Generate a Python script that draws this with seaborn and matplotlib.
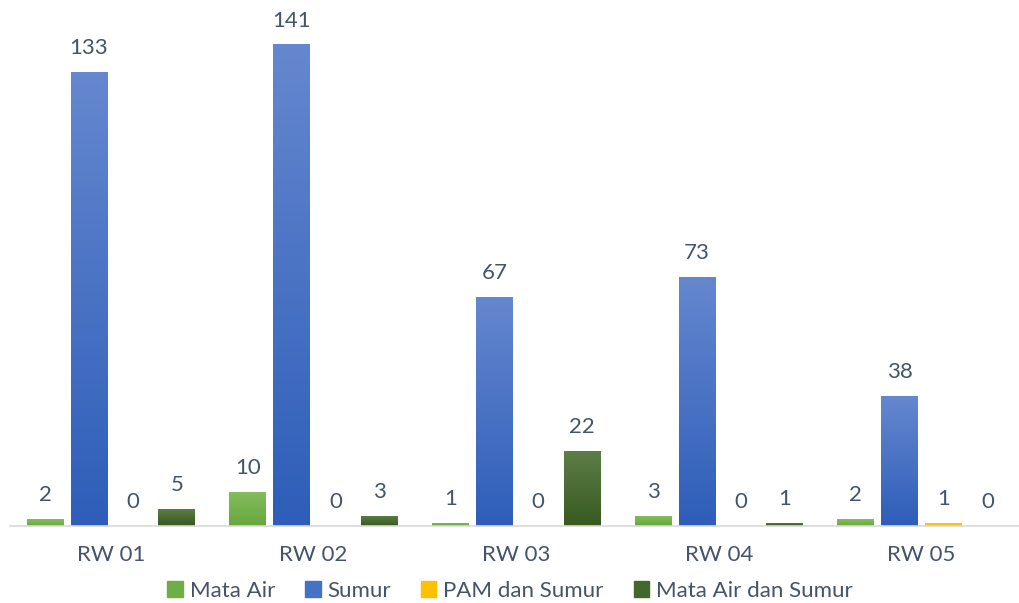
import numpy as np
import pandas as pd
import matplotlib
matplotlib.use("Agg")
import matplotlib.pyplot as plt
from matplotlib.colors import LinearSegmentedColormap
import seaborn as sns

# data
rw_labels = ["RW 01", "RW 02", "RW 03", "RW 04", "RW 05"]
series_names = ["Mata Air", "Sumur", "PAM dan Sumur", "Mata Air dan Sumur"]
mata_air = [2, 10, 1, 3, 2]
sumur = [133, 141, 67, 73, 38]
pam_sumur = [0, 0, 0, 0, 1]
mata_air_sumur = [5, 3, 22, 1, 0]

# base colour plus (top, bottom) gradient stops
base_colors = ["#70AD47", "#4472C4", "#FFC000", "#43682B"]
grad_colors = [("#84BD5E", "#67A83C"), ("#6587CF", "#2E5EB9"),
               ("#FFCA33", "#F5B800"), ("#5E7E48", "#375A20")]

df = pd.DataFrame({
    "rw": rw_labels * 4,
    "series": np.repeat(series_names, len(rw_labels)),
    "value": mata_air + sumur + pam_sumur + mata_air_sumur,
})

sns.set_style("white")
plt.rcParams["font.family"] = ["Lato", "DejaVu Sans"]
text_color = "#44546A"

fig = plt.figure(figsize=(10.2, 6.03), dpi=100)
ax = fig.add_axes([9.6 / 1020, 77 / 603, 1013.4 / 1020, 526 / 603])

sns.barplot(data=df, x="rw", y="value", hue="series", hue_order=series_names,
            palette=base_colors, width=0.867, gap=0.16, ax=ax, legend=False)

ax.set_xlim(-0.5, 4.5)
ax.set_ylim(0, 154)

# Excel-like vertical gradient on each bar
for cont, (top, bottom) in zip(ax.containers, grad_colors):
    cmap = LinearSegmentedColormap.from_list("g", [bottom, top])
    for bar in cont:
        h = bar.get_height()
        if h <= 0:
            continue
        x0 = bar.get_x()
        w = bar.get_width()
        grad = np.linspace(0, 1, 100).reshape(-1, 1)
        im = ax.imshow(grad, cmap=cmap, origin="lower", aspect="auto",
                       extent=(x0, x0 + w, 0, h), zorder=bar.get_zorder())
        im.set_clip_path(bar)
        bar.set_facecolor("none")
    ax.bar_label(cont, padding=10, fontsize=16, color=text_color)

ax.set_xlim(-0.5, 4.5)
ax.set_ylim(0, 154)

for s in ["top", "right", "left"]:
    ax.spines[s].set_visible(False)
ax.spines["bottom"].set_color("#D9D9D9")
ax.spines["bottom"].set_linewidth(1.2)
ax.set_yticks([])
ax.set_xlabel("")
ax.set_ylabel("")
ax.tick_params(axis="x", length=0, pad=14, labelsize=16, labelcolor=text_color)

handles = [plt.Rectangle((0, 0), 1, 1, color=c) for c in base_colors]
fig.legend(handles, series_names, loc="center", bbox_to_anchor=(0.5, 1 - 591 / 603),
           ncol=4, frameon=False, fontsize=16, handlelength=0.7, handleheight=0.7,
           handletextpad=0.3, columnspacing=1.35, labelcolor=text_color)

fig.savefig("out.png", dpi=100)
